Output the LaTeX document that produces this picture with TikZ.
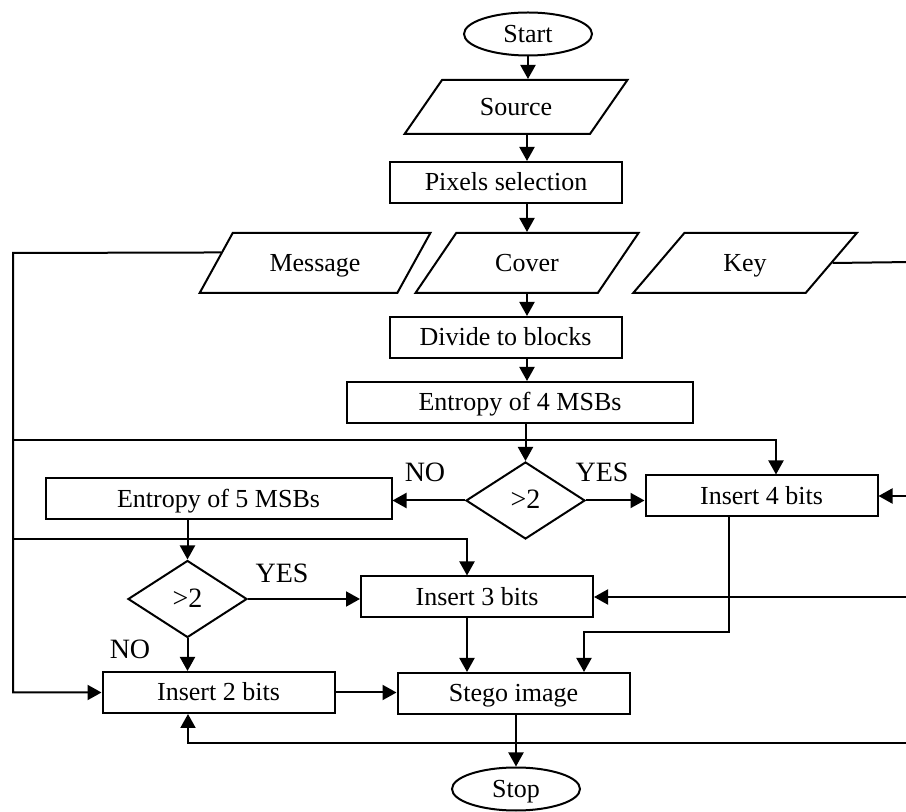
\documentclass[tikz,border=0pt]{standalone}
\usepackage{fontspec}
\setmainfont{Liberation Serif}
\usetikzlibrary{shapes.geometric,arrows.meta,calc}

\tikzset{
  txt/.style={font=\fontsize{13}{15}\selectfont,text height=9pt,text depth=0.8pt},
  box/.style={draw,line width=1pt,minimum width=116pt,minimum height=20.5pt,inner sep=0pt,txt},
  widebox/.style={box,minimum width=173pt},
  io/.style={draw,line width=1pt,trapezium,trapezium left angle=47,trapezium right angle=133,
    trapezium stretches=true,minimum width=112pt,minimum height=30pt,inner sep=0pt,txt},
  term/.style={draw,line width=1pt,ellipse,minimum width=64pt,minimum height=21.5pt,inner sep=0pt,txt},
  test/.style={draw,line width=1pt,diamond,minimum width=59.5pt,minimum height=38.5pt,inner sep=0pt,txt,font=\fontsize{14}{16}\selectfont},
  lbl/.style={font=\fontsize{14}{16}\selectfont},
  ln/.style={line width=1pt},
  arr/.style={ln,-{Triangle[length=7pt,width=7.5pt]}}
}

\begin{document}
\begin{tikzpicture}[x=0.5pt,y=-0.5pt]
  \useasboundingbox (0,0) rectangle (906,812);
  \node[term] (start) at (528,34) {Start};
  \node[io,minimum height=27pt] (src) at (516,107) {Source};
  \node[box] (pix) at (506,182.5) {Pixels selection};
  \node[io,minimum width=116pt] (msg) at (315,263) {Message};
  \node[io] (cov) at (527,263) {Cover};
  \node[io] (key) at (745,263) {Key};
  \node[box] (div) at (505.5,337.5) {Divide to blocks};
  \node[widebox] (ent4) at (520,402.5) {Entropy of 4 MSBs};
  \node[test] (d1) at (525.5,500.5) {>2};
  \node[widebox] (ent5) at (218.5,499) {Entropy of 5 MSBs};
  \node[box] (ins4) at (761.5,496) {Insert 4 bits};
  \node[test] (d2) at (187.5,599) {>2};
  \node[box] (ins3) at (477,597) {Insert 3 bits};
  \node[box] (ins2) at (218.5,692.5) {Insert 2 bits};
  \node[box] (stego) at (513.5,693.5) {Stego image};
  \node[term] (stop) at (516,789) {Stop};

  \node[lbl] (no1) at (425,472) {NO};
  \node[lbl] (yes1) at (602,472) {YES};
  \node[lbl] (yes2) at (282,573) {YES};
  \node[lbl] (no2) at (130,649) {NO};

  \coordinate (spine) at (527,0);
  \coordinate (L) at (13,253);
  \coordinate (R) at (912,262);
  \coordinate (m4) at (776,440);
  \coordinate (m3) at (467,539);
  \coordinate (k4) at (729,632);
  \coordinate (k3) at (584,632);
  \coordinate (bot) at (188,743);

  \draw[arr] (start.south) -- (start.south |- src.north);
  \draw[arr] (src.south -| spine) -- (pix.north -| spine);
  \draw[arr] (pix.south -| spine) -- (cov.north -| spine);
  \draw[arr] (cov.south -| spine) -- (div.north -| spine);
  \draw[arr] (div.south -| spine) -- (ent4.north -| spine);
  \draw[arr] (ent4.south -| d1) -- (d1.north);
  \draw[arr] (d1.west) -- (d1.west -| ent5.east);
  \draw[arr] (d1.east) -- (d1.east -| ins4.west);
  \draw[arr] (ent5.south -| d2) -- (d2.north);
  \draw[arr] (d2.east) -- (d2.east -| ins3.west);
  \draw[arr] (d2.south) -- (d2.south |- ins2.north);

  % message and key feeds
  \draw[arr] ($(msg.bottom left corner)!0.67!(msg.top left corner)$) -- (L) |- (ins2.west);
  \draw[arr] (L |- m4) -| (ins4.north -| m4);
  \draw[arr] (L |- m3) -| (ins3.north -| m3);
  \draw[ln] (key.east) -- (R) -- (R |- bot);
  \draw[arr] (R |- ins4.east) -- (ins4.east);
  \draw[arr] (R |- ins3.east) -- (ins3.east);
  \draw[arr] (R |- bot) -- (bot) -- (ins2.south -| bot);

  \draw[arr] (ins4.south -| k4) -- (k4) -- (k3) -- (stego.north -| k3);
  \draw[arr] (ins3.south -| m3) -- (stego.north -| m3);
  \draw[arr] (ins2.east) -- (ins2.east -| stego.west);
  \draw[arr] (stego.south -| stop) -- (stop.north);
\end{tikzpicture}
\end{document}
